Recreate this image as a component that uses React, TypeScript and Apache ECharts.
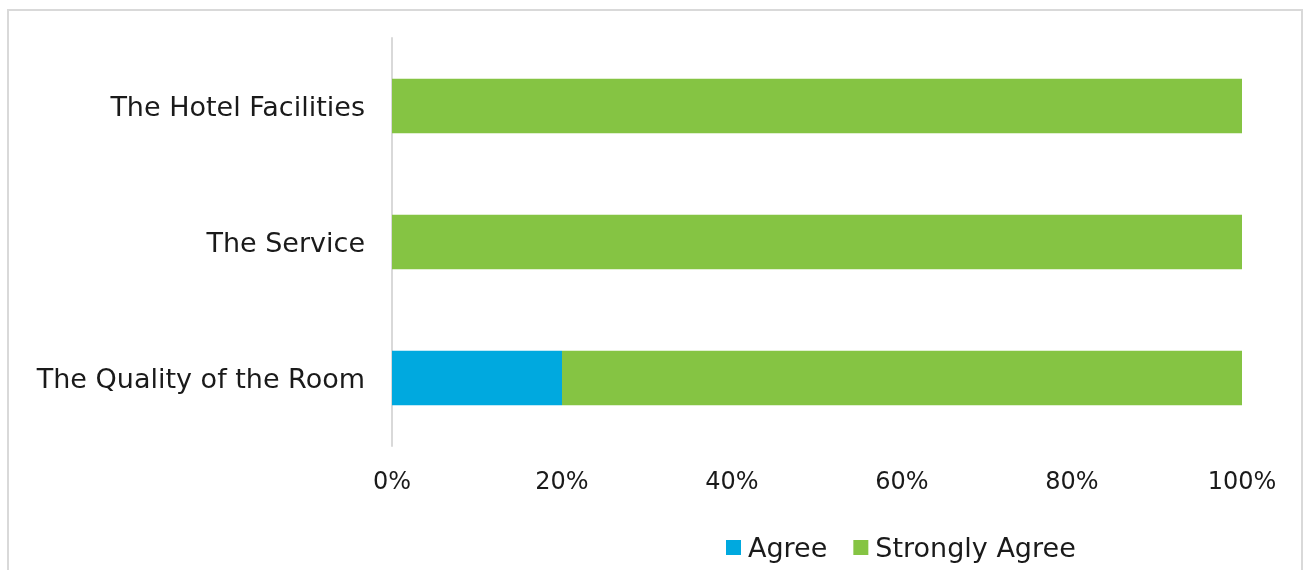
import React, { useEffect, useRef } from "react";
import * as echarts from "echarts";

const categories = ["The Quality of the Room", "The Service", "The Hotel Facilities"];
const agree = [20, 0, 0];
const stronglyAgree = [80, 100, 100];
const xTicks = [0, 20, 40, 60, 80, 100];

const FONT = "'DejaVu Sans', sans-serif";
const TEXT = "#1a1a1a";

export default function App() {
  const ref = useRef<HTMLDivElement>(null);
  useEffect(() => {
    document.body.style.overflow = "hidden";
    const chart = echarts.init(ref.current!, null, { renderer: "svg" });
    chart.setOption({
      animation: false,
      backgroundColor: "transparent",
      textStyle: { fontFamily: FONT },
      grid: { left: 392, right: 63, top: 38, bottom: 124, containLabel: false },
      legend: {
        top: 534,
        left: 726,
        padding: 0,
        itemWidth: 15,
        itemHeight: 15,
        itemGap: 26,
        icon: "rect",
        textStyle: { fontSize: 27, color: TEXT, fontFamily: FONT, padding: [0, 0, 0, 2] },
        data: ["Agree", "Strongly Agree"],
      },
      xAxis: {
        type: "value",
        min: xTicks[0],
        max: xTicks[xTicks.length - 1],
        interval: 20,
        axisLine: { show: false },
        axisTick: { show: false },
        splitLine: { show: false },
        axisLabel: {
          formatter: (v: number) => v + "%",
          fontSize: 24,
          color: TEXT,
          margin: 23,
          fontFamily: FONT,
        },
      },
      yAxis: {
        type: "category",
        data: categories,
        axisLine: { show: true, lineStyle: { color: "#d9d9d9", width: 2 } },
        axisTick: { show: false },
        axisLabel: { fontSize: 27, color: TEXT, margin: 27, fontFamily: FONT, padding: [0, 0, 6, 0] },
      },
      series: [
        {
          name: "Agree",
          type: "bar",
          stack: "total",
          data: agree,
          barCategoryGap: "60%",
          itemStyle: { color: "#00A9DF" },
        },
        {
          name: "Strongly Agree",
          type: "bar",
          stack: "total",
          data: stronglyAgree,
          barCategoryGap: "60%",
          itemStyle: { color: "#85C443" },
        },
      ],
    });
    return () => chart.dispose();
  }, []);
  return (
    <div style={{ position: "fixed", left: 0, top: 0, width: 1305, height: 570 }}>
      <div
        style={{
          position: "absolute",
          left: 7,
          top: 9,
          width: 1296,
          height: 561,
          borderTop: "2px solid #d9d9d9",
          borderLeft: "2px solid #d9d9d9",
          borderRight: "2px solid #d9d9d9",
          boxSizing: "border-box",
        }}
      />
      <div ref={ref} style={{ position: "absolute", left: 0, top: 0, width: 1305, height: 570 }} />
    </div>
  );
}
